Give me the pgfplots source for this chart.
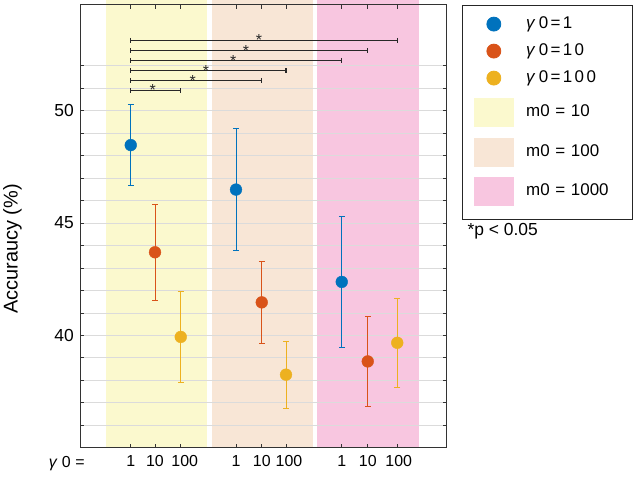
\documentclass[border=0pt]{standalone}
\usepackage{fontspec}
\setmainfont{Liberation Sans}
\newfontfamily\spaced[LetterSpace=14]{Liberation Sans}
\usepackage{pgfplots}
\pgfplotsset{compat=1.18}

\definecolor{c1}{RGB}{0,114,189}
\definecolor{c2}{RGB}{217,83,25}
\definecolor{c3}{RGB}{237,177,32}
\definecolor{bandA}{RGB}{251,249,206}
\definecolor{bandB}{RGB}{248,230,214}
\definecolor{bandC}{RGB}{248,198,224}
\definecolor{brk}{RGB}{40,40,40}

% x positions: group (m0) x gamma0 ; y = mean accuracy, e = error
\pgfplotstableread{
x y e
2.03 48.47 1.80
6.24 46.49 2.72
10.47 42.38 2.90
}\gone
\pgfplotstableread{
x y e
3.00 43.70 2.12
7.27 41.47 1.82
11.51 38.84 2.02
}\gten
\pgfplotstableread{
x y e
4.03 39.93 2.01
8.24 38.25 1.50
12.69 39.67 1.98
}\ghundred

\begin{document}
\begin{tikzpicture}
\begin{axis}[
  set layers,
  scale only axis, width=366.7bp, height=443bp,
  at={(80bp,29.3bp)}, anchor=south west,
  xmin=0, xmax=14.668, ymin=35, ymax=54.72,
  xtick={2.03,3.0,4.03,6.24,7.27,8.24,10.47,11.51,12.69},
  xticklabels={1,10,\hspace{8bp}100,1,10,\hspace{6bp}100,1,10,\hspace{3bp}100},
  ytick={40,45,50},
  minor ytick={36,...,52},
  ymajorgrids, yminorgrids,
  grid style={line width=0.7bp, draw=black!14},
  minor grid style={line width=0.7bp, draw=black!14},
  major tick length=4bp, minor tick length=4bp,
  tick style={draw=black!80, line width=0.7bp},
  axis line style={draw=black!80, line width=0.9bp},
  /pgf/number format/assume math mode=true,
  xticklabel style={font=\fontsize{16}{16}\selectfont, yshift=-4.5bp},
  yticklabel style={font=\fontsize{17.5}{17.5}\selectfont, xshift=-2.7bp},
  ylabel={Accuraucy (\%)},
  every axis y label/.style={at={(rel axis cs:-0.184,0.449)}, rotate=90, anchor=center},
  ylabel style={font=\fontsize{20}{20}\selectfont},
  legend style={at={(rel axis cs:1.041,1)}, anchor=north west,
    draw=black!85, line width=0.8bp, inner xsep=11.6bp, inner ysep=11bp,
    column sep=12.3bp, row sep=11bp,
    font=\fontsize{17}{17}\selectfont,
    nodes={text width=95bp, inner sep=0pt, text height=12bp, text depth=4bp, anchor=west}},
  legend cell align=left,
]
% background bands for m0 groups
\addplot[fill=bandA, draw=none, on layer=axis background, forget plot]
  coordinates {(1.04,56) (5.09,56)} \closedcycle;
\addplot[fill=bandB, draw=none, on layer=axis background, forget plot]
  coordinates {(5.28,56) (9.33,56)} \closedcycle;
\addplot[fill=bandC, draw=none, on layer=axis background, forget plot]
  coordinates {(9.49,56) (13.56,56)} \closedcycle;

% series
\addplot[only marks, mark=*, mark size=5.9bp, color=c1, mark options={draw=none, fill=c1},
  error bars/.cd, y dir=both, y explicit,
  error bar style={line width=0.75bp, color=c1},
  error mark options={mark size=2.9bp, line width=0.75bp, color=c1, rotate=90},
  /pgfplots/legend image code/.code={\fill[c1] (19.7bp,0bp) circle (7bp);}]
  table[x=x, y=y, y error=e] {\gone};
\addplot[only marks, mark=*, mark size=5.9bp, color=c2, mark options={draw=none, fill=c2},
  error bars/.cd, y dir=both, y explicit,
  error bar style={line width=0.75bp, color=c2},
  error mark options={mark size=2.9bp, line width=0.75bp, color=c2, rotate=90},
  /pgfplots/legend image code/.code={\fill[c2] (19.7bp,0bp) circle (7bp);}]
  table[x=x, y=y, y error=e] {\gten};
\addplot[only marks, mark=*, mark size=5.9bp, color=c3, mark options={draw=none, fill=c3},
  error bars/.cd, y dir=both, y explicit,
  error bar style={line width=0.75bp, color=c3},
  error mark options={mark size=2.9bp, line width=0.75bp, color=c3, rotate=90},
  /pgfplots/legend image code/.code={\fill[c3] (19.7bp,0bp) circle (7bp);}]
  table[x=x, y=y, y error=e] {\ghundred};

\addlegendimage{legend image code/.code={\path (0bp,15bp); \fill[bandA] (0bp,-13.9bp) rectangle (39.4bp,13.9bp);}}
\addlegendimage{legend image code/.code={\fill[bandB] (0bp,-13.9bp) rectangle (39.4bp,13.9bp);}}
\addlegendimage{legend image code/.code={\path (0bp,-16bp); \fill[bandC] (0bp,-13.9bp) rectangle (39.4bp,13.9bp);}}

% significance brackets
\addplot[brk, line width=1.1bp, mark=|, mark size=2.7bp, forget plot]
  coordinates {(2.03,50.89) (4.03,50.89)};
\addplot[brk, line width=1.1bp, mark=|, mark size=2.7bp, forget plot]
  coordinates {(2.03,51.34) (7.27,51.34)};
\addplot[brk, line width=1.1bp, mark=|, mark size=2.7bp, forget plot]
  coordinates {(2.03,51.78) (8.24,51.78)};
\addplot[brk, line width=1.1bp, mark=|, mark size=2.7bp, forget plot]
  coordinates {(2.03,52.23) (10.47,52.23)};
\addplot[brk, line width=1.1bp, mark=|, mark size=2.7bp, forget plot]
  coordinates {(2.03,52.67) (11.51,52.67)};
\addplot[brk, line width=1.1bp, mark=|, mark size=2.7bp, forget plot]
  coordinates {(2.03,53.12) (12.69,53.12)};

\begin{scope}[every node/.style={font=\fontsize{16}{16}\selectfont, anchor=base, inner sep=0pt, text=brk}]
\node at (axis cs:2.91,50.69) {*};
\node at (axis cs:4.51,51.09) {*};
\node at (axis cs:5.04,51.51) {*};
\node at (axis cs:6.13,51.95) {*};
\node at (axis cs:6.64,52.40) {*};
\node at (axis cs:7.16,52.92) {*};
\end{scope}

\legend{{\spaced\textit{γ}\hspace{1bp}0=1}, {\spaced\textit{γ}\hspace{1bp}0=10}, {\spaced\textit{γ}\hspace{1bp}0=100}, m0 = 10, m0 = 100, m0 = 1000}
\end{axis}
\node[font=\fontsize{16}{16}\selectfont, anchor=center] at (66.7bp,13.7bp) {\textit{γ} 0 =};
\node[font=\fontsize{17.5}{17.5}\selectfont, anchor=west, inner sep=0pt] at (467.3bp,246bp) {*p < 0.05};
\pgfresetboundingbox
\useasboundingbox (0,0) rectangle (635bp,477bp);
\end{tikzpicture}
\end{document}
